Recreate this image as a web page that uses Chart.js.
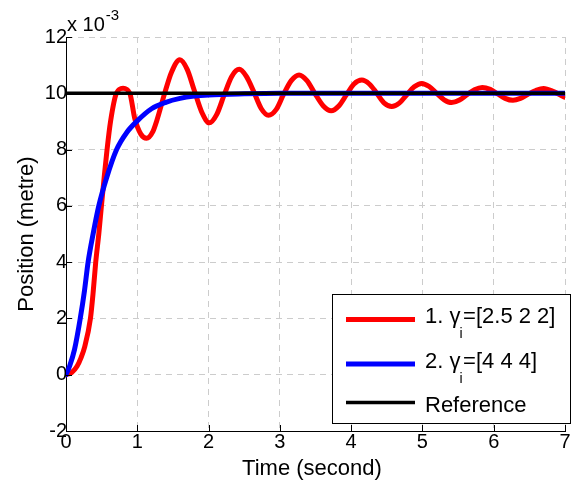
<!DOCTYPE html>
<html>
<head>
<meta charset="utf-8">
<script src="https://cdn.jsdelivr.net/npm/chart.js@4.4.0/dist/chart.umd.min.js"></script>
<style>
html,body{margin:0;padding:0;background:#fff}
</style>
</head>
<body>
<canvas id="chart" width="578" height="483"></canvas>
<script>

// values in units of 1e-3 m
const redTime=[0,0.08,0.155,0.21,0.263,0.343,0.38,0.417,0.46,0.497,0.535,0.576,0.625,0.707,0.8,0.895,0.965,1.05,1.13,1.22,1.27,1.39,1.48,1.597,1.7,1.8,1.91,2.01,2.115,2.22,2.325,2.43,2.53,2.635,2.74,2.84,2.95,3.05,3.16,3.27,3.38,3.49,3.61,3.72,3.83,3.935,4.04,4.15,4.255,4.36,4.465,4.57,4.675,4.78,4.885,4.99,5.095,5.2,5.305,5.41,5.52,5.625,5.73,5.84,5.95,6.055,6.16,6.27,6.375,6.485,6.59,6.7,6.84,6.98,7]
const redPos=[0,0.08,0.3,0.6,1.0,2.0,2.9,4.0,5.0,6.0,7.0,8.0,9.0,10.0,10.18,10.0,9.1,8.55,8.4,8.65,9.0,10.05,10.75,11.19,10.85,10.1,9.3,8.95,9.25,9.95,10.6,10.85,10.6,10.05,9.45,9.22,9.43,9.95,10.45,10.65,10.45,10.0,9.55,9.38,9.56,9.95,10.33,10.47,10.33,10.0,9.65,9.53,9.65,9.95,10.23,10.35,10.24,10.0,9.77,9.67,9.76,9.95,10.13,10.21,10.14,9.98,9.82,9.75,9.82,9.97,10.1,10.17,10.06,9.88,9.86]

const blueTime=[0,0.05,0.12,0.2,0.26,0.31,0.38,0.46,0.57,0.71,0.85,1.0,1.2,1.4,1.6,1.8,2.0,2.5,3.0,7.0]
const bluePos=[0,0.3,0.9,2.0,3.0,4.0,5.0,6.0,7.0,8.0,8.6,9.02,9.45,9.68,9.82,9.9,9.94,9.98,10,10]

const refTime=[0,7]
const refPos=[10,10]

const xTicks=[0,1,2,3,4,5,6,7]
const yTicks=[-2,0,2,4,6,8,10,12]

const legendItems=[
{num:"1. ",rest:"=[2.5 2 2]",color:"#ff0000",width:5,sub:true},
{num:"2. ",rest:"=[4 4 4]",color:"#0000ff",width:5,sub:true},
{num:"",rest:"Reference",color:"#000000",width:3.5,sub:false}
]

const FONT="'Liberation Sans', Arial, sans-serif"

function pts(t,v){
return t.map((x,i)=>({x:x,y:v[i]}))
}

const extras={
id:"extras",
afterDatasetsDraw(chart){

const ctx=chart.ctx
const xs=chart.scales.x
const ys=chart.scales.y
const a=chart.chartArea

ctx.save()
ctx.strokeStyle="#000"
ctx.lineWidth=1
ctx.beginPath()
xTicks.forEach(v=>{
let px=Math.round(xs.getPixelForValue(v))+0.5
ctx.moveTo(px,a.bottom)
ctx.lineTo(px,a.bottom-6)
})
yTicks.forEach(v=>{
let py=Math.round(ys.getPixelForValue(v))+0.5
ctx.moveTo(a.left,py)
ctx.lineTo(a.left+6,py)
})
ctx.stroke()

// exponent
ctx.fillStyle="#000"
ctx.textBaseline="alphabetic"
ctx.textAlign="left"
ctx.font="20px "+FONT
ctx.fillText("x 10",67,31)
let w=ctx.measureText("x 10").width
ctx.font="15px "+FONT
ctx.fillText("-3",67+w+1,20)

// axis titles
ctx.font="22px "+FONT
ctx.textAlign="center"
ctx.fillText("Time (second)",312,475)
ctx.save()
ctx.translate(33,234)
ctx.rotate(-Math.PI/2)
ctx.fillText("Position (metre)",0,0)
ctx.restore()

// legend
ctx.fillStyle="#fff"
ctx.fillRect(332.5,294.5,238,129)
ctx.strokeStyle="#000"
ctx.lineWidth=1
ctx.strokeRect(332.5,294.5,238,129)

let lineY=[319.5,364,402.5]
let textY=[323,368,411.5]

legendItems.forEach((it,i)=>{
ctx.strokeStyle=it.color
ctx.lineWidth=it.width
ctx.beginPath()
ctx.moveTo(346,lineY[i])
ctx.lineTo(415,lineY[i])
ctx.stroke()

ctx.fillStyle="#000"
ctx.textAlign="left"
ctx.font="22px "+FONT
let x=425
if(it.sub){
ctx.fillText(it.num,x,textY[i])
x+=ctx.measureText(it.num).width
ctx.fillText("\u03b3",x,textY[i])
x+=ctx.measureText("\u03b3").width-1
ctx.font="14px "+FONT
ctx.fillText("i",x,textY[i]+15)
x+=ctx.measureText("i").width+0.5
ctx.font="22px "+FONT
}
ctx.fillText(it.rest,x,textY[i])
})

ctx.restore()
}
}

const tickFont={family:FONT,size:20,lineHeight:1}

new Chart(document.getElementById("chart"),{

type:"line",

data:{
datasets:[
{label:"1",data:pts(redTime,redPos),borderColor:"#ff0000",borderWidth:5,order:3},
{label:"2",data:pts(blueTime,bluePos),borderColor:"#0000ff",borderWidth:5,order:2},
{label:"Reference",data:pts(refTime,refPos),borderColor:"#000000",borderWidth:3.5,order:1}
]
},

options:{
responsive:false,
animation:false,
parsing:false,
elements:{
point:{radius:0},
line:{cubicInterpolationMode:"monotone",fill:false,borderCapStyle:"round",borderJoinStyle:"round"}
},
layout:{padding:{left:0,top:37,right:13,bottom:0}},
plugins:{
legend:{display:false},
tooltip:{enabled:false}
},
scales:{
x:{
type:"linear",
min:0,max:7,
afterBuildTicks:s=>{s.ticks=xTicks.map(v=>({value:v}))},
afterFit:s=>{s.height=52},
grid:{color:"#cccccc",lineWidth:1,drawTicks:false},
border:{display:true,color:"#000",width:1,dash:[6,5]},
ticks:{color:"#000",font:tickFont,padding:1,maxRotation:0,autoSkip:false}
},
y:{
type:"linear",
min:-2,max:12,
afterBuildTicks:s=>{s.ticks=yTicks.map(v=>({value:v}))},
afterFit:s=>{s.width=66},
grid:{color:"#cccccc",lineWidth:1,drawTicks:false},
border:{display:true,color:"#000",width:1,dash:[6,5]},
ticks:{color:"#000",font:tickFont,padding:-1,autoSkip:false}
}
}
},

plugins:[extras]

})

</script>
</body>
</html>
